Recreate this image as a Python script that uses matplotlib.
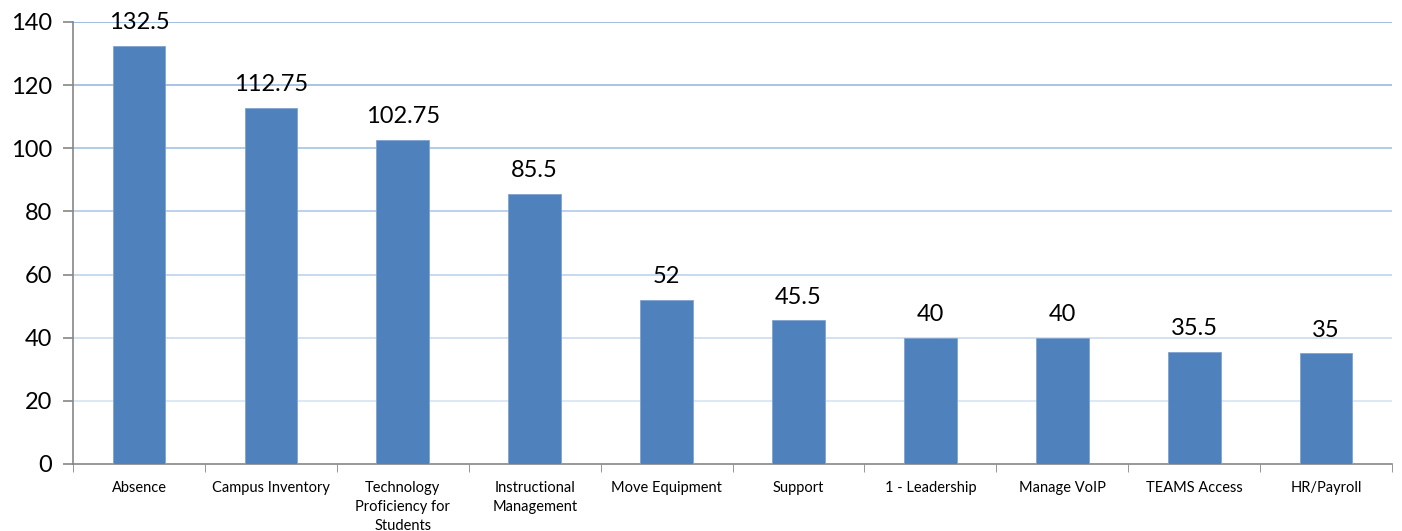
import numpy as np
import matplotlib.pyplot as plt
from matplotlib.colors import to_rgb

# ========================================================
# Data
# ========================================================
categories = [
    "Absence",
    "Campus Inventory",
    "Technology\nProficiency for\nStudents",
    "Instructional\nManagement",
    "Move Equipment",
    "Support",
    "1 - Leadership",
    "Manage VoIP",
    "TEAMS Access",
    "HR/Payroll",
]
values = [132.5, 112.75, 102.75, 85.5, 52, 45.5, 40, 40, 35.5, 35]
value_labels = ["132.5", "112.75", "102.75", "85.5", "52", "45.5", "40", "40", "35.5", "35"]
y_ticks = [0, 20, 40, 60, 80, 100, 120, 140]

plt.rcParams["font.family"] = ["Lato", "DejaVu Sans"]

fig = plt.figure(figsize=(14.02, 5.31), dpi=100)
ax = fig.add_axes([0.0521, 0.1262, 0.9408, 0.8324])

x = np.arange(len(categories))
bars = ax.bar(x, values, width=0.40, color="#4F81BD", edgecolor="#7FA3D0", linewidth=0.6, zorder=3)

# gridlines fading from dark (top) to light (bottom)
light = np.array(to_rgb("#E4ECF6"))
dark = np.array(to_rgb("#8EB1DC"))
for t in y_ticks[1:]:
    f = t / y_ticks[-1]
    ax.axhline(t, color=light + (dark - light) * f, linewidth=1.2, zorder=1)

for xi, v, lab in zip(x, values, value_labels):
    ax.text(xi, v + 4.0, lab, ha="center", va="bottom", fontsize=17, color="black", zorder=4)

ax.set_xlim(-0.5, len(categories) - 0.5)
ax.set_ylim(0, 140)
ax.set_yticks(y_ticks)
ax.set_yticklabels([str(t) for t in y_ticks], fontsize=17)

ax.set_xticks(x)
ax.set_xticklabels(categories, fontsize=10.5, linespacing=1.45, va="top")
ax.tick_params(axis="x", length=0, pad=12)
ax.set_xticks(np.arange(len(categories) + 1) - 0.5, minor=True)
ax.tick_params(axis="x", which="minor", length=6, color="#868686", direction="out")
ax.tick_params(axis="y", length=7, color="#868686", width=1.2, pad=8)

for s in ["top", "right"]:
    ax.spines[s].set_visible(False)
for s in ["left", "bottom"]:
    ax.spines[s].set_color("#868686")
    ax.spines[s].set_linewidth(1.2)

fig.savefig("out.png", dpi=100)
